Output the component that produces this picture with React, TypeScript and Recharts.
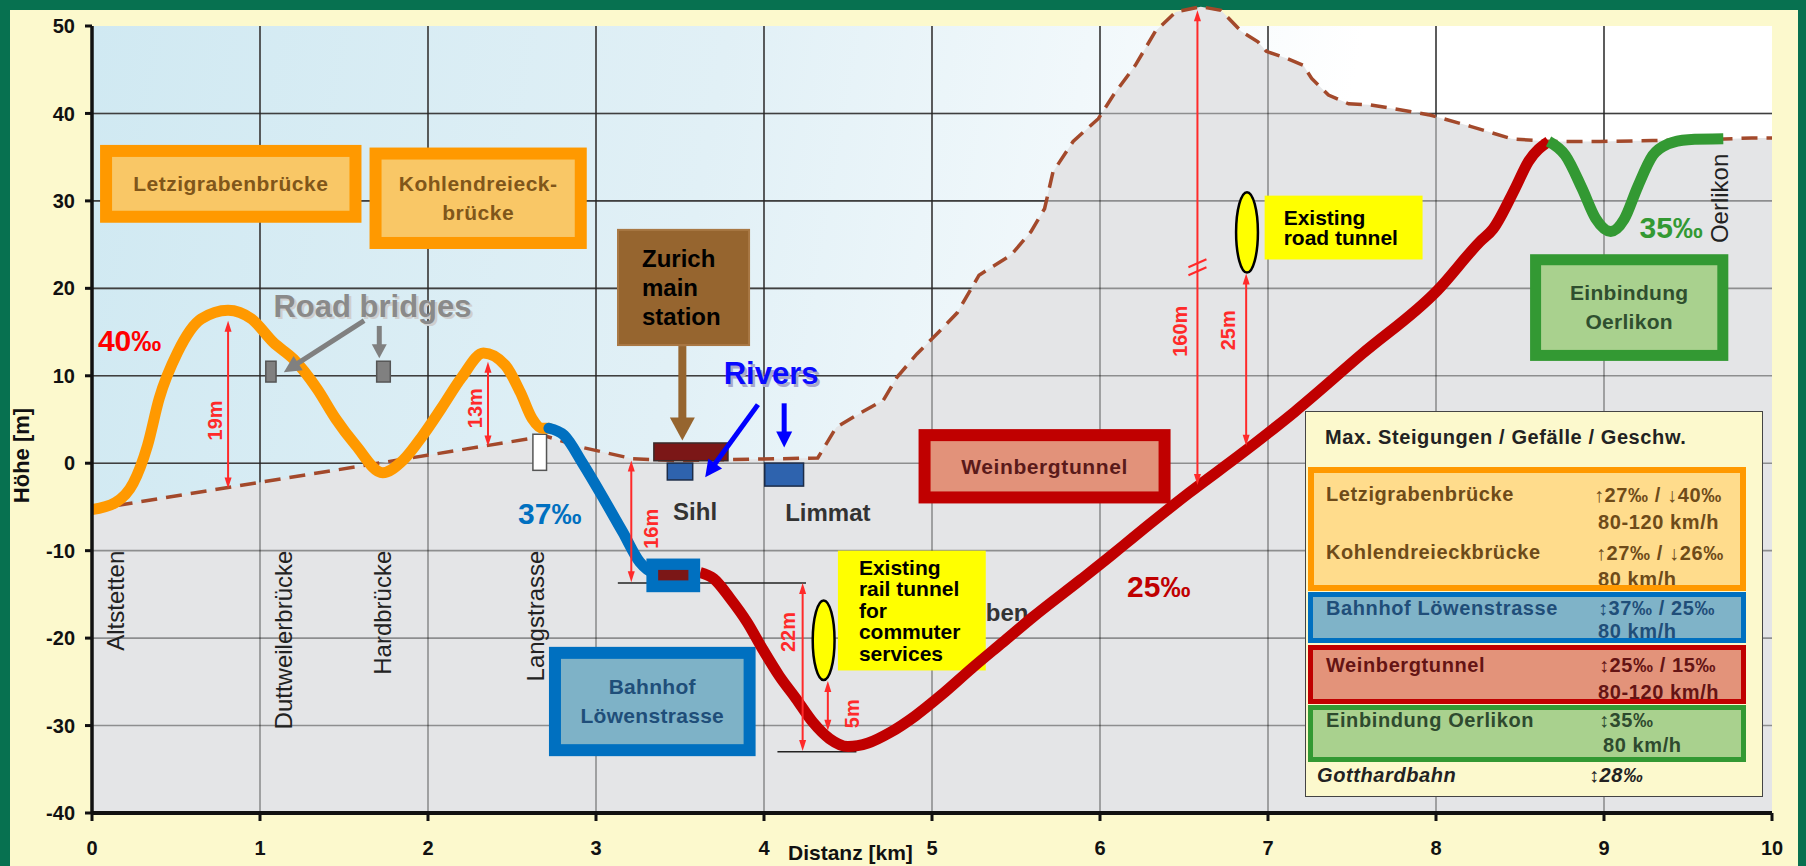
import React from 'react';
import {
  ComposedChart, Line, Area, XAxis, YAxis, CartesianGrid,
  ReferenceLine, ReferenceArea, ReferenceDot,
} from 'recharts';

const FONT = '"Liberation Sans", Arial, Helvetica, sans-serif';

// ---------------- data ----------------
const xTicks = [0, 1, 2, 3, 4, 5, 6, 7, 8, 9, 10];
const yTicks = [-40, -30, -20, -10, 0, 10, 20, 30, 40, 50];

// terrain (ground surface, dashed line)
const terrainKm = [0, 2.7, 2.92, 3.22, 3.5, 4.32, 4.43, 4.57, 4.71, 4.79, 4.91, 5.03, 5.15, 5.28, 5.47, 5.59, 5.67, 5.72, 5.84, 5.99, 6.08, 6.21, 6.33, 6.45, 6.6, 6.72, 6.84, 6.94, 6.99, 7.11, 7.21, 7.26, 7.36, 7.48, 7.6, 7.73, 7.97, 8.21, 8.45, 8.68, 8.98, 9.29, 9.61, 9.88, 10];
const terrainM = [-5.3, 3.1, 1.8, 0.5, 0.3, 0.6, 4.1, 5.7, 7.2, 9.8, 12.5, 14.8, 17.2, 21.5, 23.8, 26.5, 29.1, 33.3, 36.8, 39.4, 42.1, 45.5, 49.4, 51.6, 52.2, 51.8, 49.4, 48.2, 47.1, 46.3, 45.5, 44, 42.1, 41.1, 41, 40.6, 39.8, 38.5, 37.1, 36.8, 36.8, 36.9, 37, 37.2, 37.2];

// Letzigraben / Kohlendreieck bridges (orange)
const letziKm = [0, 0.14, 0.245, 0.33, 0.4, 0.51, 0.65, 0.81, 0.95, 1.08, 1.2, 1.34, 1.45, 1.57, 1.73, 1.85, 1.97, 2.08, 2.2, 2.33, 2.46, 2.55, 2.62, 2.68, 2.72];
const letziM = [-5.3, -4.5, -2.3, 2.0, 7.4, 12.7, 16.5, 17.5, 16.5, 13.8, 11.9, 8.5, 5.1, 2.05, -1.1, 0.3, 3.2, 6.3, 9.8, 12.6, 11.2, 8.1, 5.1, 4.0, 4.0];

// Bahnhof Löwenstrasse ramp (blue)
const loewenKm = [2.72, 2.81, 2.92, 3.05, 3.16, 3.26, 3.34, 3.45];
const loewenM = [4.0, 3.2, 0.0, -4.2, -7.9, -11.3, -12.5, -12.8];

// Weinbergtunnel (red)
const weinKm = [3.62, 3.7, 3.8, 3.9, 3.99, 4.09, 4.19, 4.29, 4.39, 4.5, 4.62, 4.75, 4.9, 5.05, 5.24, 5.42, 5.6, 5.88, 6.07, 6.19, 6.53, 6.85, 7.16, 7.56, 8.01, 8.26, 8.34, 8.47, 8.55, 8.67];
const weinM = [-12.5, -13.2, -15.5, -18.2, -21.2, -24.3, -26.9, -29.6, -31.5, -32.4, -32.0, -30.8, -28.9, -26.6, -23.4, -20.5, -17.6, -13.4, -10.5, -8.6, -3.4, 1.2, 5.9, 12.5, 19.8, 25.3, 26.8, 31.4, 34.5, 36.8];

// Einbindung Oerlikon (green)
const oerliKm = [8.67, 8.77, 8.87, 8.95, 9.04, 9.12, 9.2, 9.29, 9.38, 9.5, 9.71];
const oerliM = [36.8, 35.2, 31.4, 28.0, 26.5, 27.9, 31.6, 35.2, 36.5, 37.0, 37.1];

const toPts = (xs: number[], ys: number[]) => xs.map((x, i) => ({ x, y: ys[i] }));
const terrain = toPts(terrainKm, terrainM);
const letzi = toPts(letziKm, letziM);
const loewen = toPts(loewenKm, loewenM);
const wein = toPts(weinKm, weinM);
const oerli = toPts(oerliKm, oerliM);

const gridXs = xTicks.slice(1, -1);
const gridYs = yTicks.slice(1, -1);

// ---------------- shapes ----------------
type BoxOpts = {
  fill: string; stroke?: string; sw?: number;
  lines?: string[]; size?: number; color?: string; weight?: number;
  align?: 'center' | 'left'; padX?: number; lh?: number; spacing?: number;
  ellipse?: boolean;
};
const boxShape = (o: BoxOpts) => (p: any) => {
  const { x, y, width, height } = p;
  const sw = o.sw ?? 0;
  const lines = o.lines ?? [];
  const size = o.size ?? 20;
  const lh = o.lh ?? size * 1.2;
  const cx = x + width / 2;
  const cy = y + height / 2;
  const tx = o.align === 'left' ? x + (o.padX ?? 10) : cx;
  const shp = o.ellipse ? (
    <ellipse cx={cx} cy={cy} rx={width / 2} ry={height / 2} fill={o.fill} stroke={o.stroke ?? 'none'} strokeWidth={sw} />
  ) : (
    <rect x={x + sw / 2} y={y + sw / 2} width={Math.max(0, width - sw)} height={Math.max(0, height - sw)}
      fill={o.fill} stroke={o.stroke ?? 'none'} strokeWidth={sw} />
  );
  return (
    <g>
      {shp}
      {lines.map((t, i) => (
        <text key={i} x={tx} y={cy + (i - (lines.length - 1) / 2) * lh + size * 0.35}
          textAnchor={o.align === 'left' ? 'start' : 'middle'} fontSize={size}
          fontWeight={o.weight ?? 700} fill={o.color ?? '#000'} fontFamily={FONT}
          letterSpacing={o.spacing ?? 0}>{t}</text>
      ))}
    </g>
  );
};

type TOpts = {
  size: number; color: string; weight?: number; anchor?: 'start' | 'middle' | 'end';
  rotate?: boolean; shadow?: string; spacing?: number;
};
const textShape = (t: string, o: TOpts) => (p: any) => {
  const { cx, cy } = p;
  const base = cy + o.size * 0.35;
  const tr = o.rotate ? `rotate(-90 ${cx} ${cy})` : undefined;
  const common: any = {
    textAnchor: o.anchor ?? 'middle', fontSize: o.size, fontWeight: o.weight ?? 700,
    fontFamily: FONT, letterSpacing: o.spacing ?? 0,
  };
  return (
    <g transform={tr}>
      {o.shadow && <text x={cx + 2.5} y={base + 2.5} fill={o.shadow} {...common}>{t}</text>}
      <text x={cx} y={base} fill={o.color} {...common}>{t}</text>
    </g>
  );
};

type AOpts = { color: string; width: number; head: number; headW: number; both?: boolean };
const arrowShape = (o: AOpts) => (p: any) => {
  const { x1, y1, x2, y2 } = p;
  if ([x1, y1, x2, y2].some((v) => typeof v !== 'number' || isNaN(v))) return <g />;
  const dx = x2 - x1;
  const dy = y2 - y1;
  const len = Math.hypot(dx, dy) || 1;
  const ux = dx / len;
  const uy = dy / len;
  const nx = -uy;
  const ny = ux;
  const h = o.head;
  const w = o.headW / 2;
  const head = (tx: number, ty: number, sx: number, sy: number) => {
    const bx = tx - sx * h;
    const by = ty - sy * h;
    return `${tx},${ty} ${bx + nx * w},${by + ny * w} ${bx - nx * w},${by - ny * w}`;
  };
  const sx1 = o.both ? x1 + ux * h * 0.8 : x1;
  const sy1 = o.both ? y1 + uy * h * 0.8 : y1;
  const ex = x2 - ux * h * 0.8;
  const ey = y2 - uy * h * 0.8;
  return (
    <g>
      <line x1={sx1} y1={sy1} x2={ex} y2={ey} stroke={o.color} strokeWidth={o.width} />
      <polygon points={head(x2, y2, ux, uy)} fill={o.color} />
      {o.both && <polygon points={head(x1, y1, -ux, -uy)} fill={o.color} />}
    </g>
  );
};

const plainLine = (color: string, width: number) => (p: any) => (
  <line x1={p.x1} y1={p.y1} x2={p.x2} y2={p.y2} stroke={color} strokeWidth={width} />
);

const breakShape = (p: any) => {
  const { cx, cy } = p;
  return (
    <g stroke="#ff2a2a" strokeWidth={2}>
      <line x1={cx - 9} y1={cy - 1} x2={cx + 9} y2={cy - 9} />
      <line x1={cx - 9} y1={cy + 7} x2={cx + 9} y2={cy - 1} />
    </g>
  );
};

const RED = '#ff2a2a';
const dimArrow = arrowShape({ color: RED, width: 2, head: 11, headW: 7, both: true });
const dimText = (t: string) => textShape(t, { size: 20, color: RED, rotate: true });
const catText = (t: string) => textShape(t, { size: 24, color: '#222', weight: 400, rotate: true, anchor: 'end' });

const orangeBox = (lines: string[]) => boxShape({ fill: '#f9c766', stroke: '#ff9900', sw: 12, lines, size: 21, color: '#80561a', lh: 29, spacing: 0.5 });

const yTitle = (props: any) => {
  const vb = props && props.viewBox ? props.viewBox : { x: 32, y: 26, width: 60, height: 787 };
  const cx = vb.x - 11;
  const cy = vb.y + vb.height / 2 + 36;
  return (
    <text x={cx} y={cy + 8} transform={`rotate(-90 ${cx} ${cy})`} textAnchor="middle"
      fontSize={22} fontWeight={700} fill="#111" fontFamily={FONT}>Höhe [m]</text>
  );
};
const xTitle = (props: any) => {
  const vb = props && props.viewBox ? props.viewBox : { x: 92, y: 813, width: 1680, height: 40 };
  return (
    <text x={vb.x + 696} y={vb.y + 47} textAnchor="start"
      fontSize={21} fontWeight={700} fill="#111" fontFamily={FONT}>Distanz [km]</text>
  );
};

// ---------------- legend (HTML) ----------------
const LT = (s: string, left: number, top: number, color: string, extra: any = {}) => (
  <div style={{
    position: 'absolute', left, top, color, whiteSpace: 'nowrap', fontSize: 20, fontWeight: 700,
    lineHeight: '24px', letterSpacing: 0.6, ...extra,
  }}>{s}</div>
);
const Section = (p: { top: number; height: number; border: string; bg: string; bw: number; clip?: boolean; children: any }) => (
  <div style={{
    position: 'absolute', left: 2, top: p.top, width: 438, height: p.height, boxSizing: 'border-box',
    border: `${p.bw}px solid ${p.border}`, background: p.bg, overflow: p.clip === false ? 'visible' : 'hidden',
  }}>{p.children}</div>
);

function Legend() {
  const or = '#6e4b19';
  const bl = '#1f4e79';
  const rd = '#641414';
  const gr = '#2e4a2e';
  return (
    <div style={{
      position: 'absolute', left: 1305, top: 411, width: 458, height: 386, boxSizing: 'border-box',
      background: '#fcf9cd', border: '1.5px solid #444', fontFamily: FONT,
    }}>
      {LT('Max. Steigungen / Gefälle / Geschw.', 19, 13, '#222')}
      <Section top={55} height={124} border="#ff9900" bg="#ffdc8c" bw={6}>
        {LT('Letzigrabenbrücke', 12, 9, or)}
        {LT('↑27‰ / ↓40‰', 280, 10, or)}
        {LT('80-120 km/h', 284, 37, or)}
        {LT('Kohlendreieckbrücke', 12, 67, or)}
        {LT('↑27‰ / ↓26‰', 282, 68, or)}
        {LT('80 km/h', 284, 94, or)}
      </Section>
      <Section top={180} height={51} border="#0070c0" bg="#7fb3c8" bw={5} clip={false}>
        {LT('Bahnhof Löwenstrasse', 13, -1, bl)}
        {LT('↕37‰ / 25‰', 285, -1, bl)}
        {LT('80 km/h', 285, 22, bl)}
      </Section>
      <Section top={233} height={59} border="#c00000" bg="#e3937a" bw={5}>
        {LT('Weinbergtunnel', 13, 3, rd)}
        {LT('↕25‰ / 15‰', 286, 3, rd)}
        {LT('80-120 km/h', 285, 30, rd)}
      </Section>
      <Section top={293} height={57} border="#339933" bg="#a9d18e" bw={5}>
        {LT('Einbindung Oerlikon', 13, -2, gr)}
        {LT('↕35‰', 286, -2, gr)}
        {LT('80 km/h', 290, 23, gr)}
      </Section>
      {LT('Gotthardbahn', 11, 351, '#222', { fontStyle: 'italic' })}
      {LT('↕28‰', 283, 351, '#222', { fontStyle: 'italic' })}
    </div>
  );
}

// ---------------- chart ----------------
export default function App() {
  return (
    <div style={{ position: 'relative', width: 1806, height: 866, background: '#077150', overflow: 'hidden', fontFamily: FONT }}>
      <style>{'body{margin:0} .noclip, .noclip *{clip-path:none !important}'}</style>
      <div style={{ position: 'absolute', left: 10, top: 10, width: 1788, height: 856, background: '#fcf9cd' }} />
      <div style={{
        position: 'absolute', left: 92, top: 26, width: 1680, height: 787,
        background: 'linear-gradient(100deg, #d0e9f2 0%, #e1f0f6 35%, #f1f8fb 55%, #ffffff 70%)',
      }} />
      <div style={{ position: 'absolute', left: 0, top: 0 }}>
        <ComposedChart width={1806} height={866} margin={{ top: 26, right: 34, bottom: 13, left: 32 }}>
          <CartesianGrid stroke="#666" strokeWidth={1.6} verticalValues={gridXs} horizontalValues={gridYs} />
          <XAxis type="number" dataKey="x" domain={[0, 10]} ticks={xTicks} allowDataOverflow height={40} interval={0}
            axisLine={{ stroke: '#111', strokeWidth: 4 }} tickLine={{ stroke: '#111', strokeWidth: 3 }}
            tickSize={8} tickMargin={20}
            tick={{ fill: '#111', fontSize: 20, fontWeight: 700, fontFamily: FONT }}
            label={{ content: xTitle }} />
          <YAxis type="number" domain={[-40, 50]} ticks={yTicks} allowDataOverflow width={60} interval={0}
            axisLine={{ stroke: '#111', strokeWidth: 3.5 }} tickLine={{ stroke: '#111', strokeWidth: 3 }}
            tickSize={7} tickMargin={10}
            tick={{ fill: '#111', fontSize: 20, fontWeight: 700, fontFamily: FONT }}
            label={{ content: yTitle }} />

          {/* ground */}
          <Area className="noclip" data={terrain} dataKey="y" type="linear" baseValue={-40}
            fill="#e4e5e7" fillOpacity={1} stroke="none" isAnimationActive={false} dot={false} activeDot={false} zIndex={100} />
          {gridXs.map((v) => (
            <ReferenceLine key={'gx' + v} x={v} stroke="#000" strokeOpacity={0.38} strokeWidth={1.6} zIndex={101} />
          ))}
          {gridYs.map((v) => (
            <ReferenceLine key={'gy' + v} y={v} stroke="#000" strokeOpacity={0.38} strokeWidth={1.6} zIndex={101} />
          ))}
          <Line className="noclip" data={terrain} dataKey="y" type="linear" stroke="#a3492b" strokeWidth={3.5}
            strokeDasharray="16 9" dot={false} activeDot={false} isAnimationActive={false} zIndex={102} />

          {/* thin black reference lines */}
          <ReferenceLine segment={[{ x: 3.13, y: -13.7 }, { x: 4.25, y: -13.7 }]} shape={plainLine('#222', 1.5)} zIndex={103} />
          <ReferenceLine segment={[{ x: 4.08, y: -33 }, { x: 4.55, y: -33 }]} shape={plainLine('#222', 1.5)} zIndex={103} />

          {/* boxes & markers */}
          <ReferenceArea x1={0.048} x2={1.604} y1={27.5} y2={36.4} shape={orangeBox(['Letzigrabenbrücke'])} zIndex={104} />
          <ReferenceArea x1={1.652} x2={2.945} y1={24.5} y2={36.1} shape={orangeBox(['Kohlendreieck-', 'brücke'])} zIndex={104} />
          <ReferenceArea x1={3.125} x2={3.917} y1={13.4} y2={26.8}
            shape={boxShape({ fill: '#96652f', stroke: '#a97844', sw: 2, lines: ['Zurich', 'main', 'station'], size: 24, color: '#000', align: 'left', padX: 25, lh: 29 })} zIndex={104} />
          <ReferenceArea x1={3.34} x2={3.79} y1={0.2} y2={2.4} shape={boxShape({ fill: '#7b1717', stroke: '#3a2a2a', sw: 1.5 })} zIndex={104} />
          <ReferenceArea x1={3.42} x2={3.58} y1={-2} y2={0.1} shape={boxShape({ fill: '#2e63ae', stroke: '#1c2c48', sw: 1.5 })} zIndex={104} />
          <ReferenceArea x1={4.0} x2={4.24} y1={-2.7} y2={0.1} shape={boxShape({ fill: '#2e63ae', stroke: '#1c2c48', sw: 1.5 })} zIndex={104} />
          <ReferenceArea x1={1.03} x2={1.1} y1={9.2} y2={11.75} shape={boxShape({ fill: '#808080', stroke: '#555', sw: 1.5 })} zIndex={104} />
          <ReferenceArea x1={1.69} x2={1.78} y1={9.2} y2={11.75} shape={boxShape({ fill: '#808080', stroke: '#555', sw: 1.5 })} zIndex={104} />
          <ReferenceArea x1={2.62} x2={2.71} y1={-0.9} y2={3.4} shape={boxShape({ fill: '#ffffff', stroke: '#555', sw: 1.5 })} zIndex={104} />
          <ReferenceArea x1={2.72} x2={3.95} y1={-33.5} y2={-21}
            shape={boxShape({ fill: '#7eb2c7', stroke: '#0070c0', sw: 12, lines: ['Bahnhof', 'Löwenstrasse'], size: 21, color: '#1f4e79', lh: 29, spacing: 0.3 })} zIndex={104} />
          <ReferenceArea x1={4.44} x2={5.32} y1={-23.7} y2={-10}
            shape={boxShape({ fill: '#ffff00', lines: ['Existing', 'rail tunnel', 'for', 'commuter', 'services'], size: 21, color: '#000', align: 'left', padX: 21, lh: 21.5 })} zIndex={104} />
          <ReferenceArea x1={4.29} x2={4.42} y1={-24.8} y2={-15.7} shape={boxShape({ fill: '#ffff00', stroke: '#000', sw: 2.5, ellipse: true })} zIndex={104} />
          <ReferenceArea x1={4.92} x2={6.42} y1={-4.6} y2={3.9}
            shape={boxShape({ fill: '#e2927a', stroke: '#c00000', sw: 12, lines: ['Weinbergtunnel'], size: 21, color: '#5a1a1a', spacing: 0.6 })} zIndex={104} />
          <ReferenceArea x1={6.81} x2={6.94} y1={21.8} y2={31} shape={boxShape({ fill: '#ffff00', stroke: '#000', sw: 2.5, ellipse: true })} zIndex={104} />
          <ReferenceArea x1={6.98} x2={7.92} y1={23.3} y2={30.6}
            shape={boxShape({ fill: '#ffff00', lines: ['Existing', 'road tunnel'], size: 21, color: '#000', align: 'left', padX: 19, lh: 20 })} zIndex={104} />
          <ReferenceArea x1={8.56} x2={9.74} y1={11.7} y2={23.9}
            shape={boxShape({ fill: '#a9d18e', stroke: '#339933', sw: 11, lines: ['Einbindung', 'Oerlikon'], size: 21, color: '#2f4f2f', lh: 29, spacing: 0.3 })} zIndex={104} />

          {/* labels beneath lines */}
          <ReferenceDot x={5.32} y={-17.1} r={1} shape={textShape('ben', { size: 24, color: '#333', anchor: 'start' })} zIndex={105} />

          {/* route lines */}
          <Line data={letzi} dataKey="y" type="monotone" stroke="#ff9900" strokeWidth={11} strokeLinecap="round"
            dot={false} activeDot={false} isAnimationActive={false} zIndex={400} />
          <Line data={loewen} dataKey="y" type="monotone" stroke="#0070c0" strokeWidth={11} strokeLinecap="round"
            dot={false} activeDot={false} isAnimationActive={false} zIndex={400} />
          <Line data={wein} dataKey="y" type="monotone" stroke="#c00000" strokeWidth={11}
            dot={false} activeDot={false} isAnimationActive={false} zIndex={400} />
          <Line data={oerli} dataKey="y" type="monotone" stroke="#339933" strokeWidth={11}
            dot={false} activeDot={false} isAnimationActive={false} zIndex={400} />

          {/* station box on top of the ramp */}
          <ReferenceArea x1={3.3} x2={3.62} y1={-14.75} y2={-10.9} shape={boxShape({ fill: '#0070c0' })} zIndex={410} />
          <ReferenceArea x1={3.37} x2={3.55} y1={-13.4} y2={-12.2} shape={boxShape({ fill: '#7b1717' })} zIndex={411} />

          {/* arrows */}
          <ReferenceLine segment={[{ x: 1.62, y: 16.3 }, { x: 1.142, y: 10.4 }]} shape={arrowShape({ color: '#808080', width: 5, head: 17, headW: 17 })} zIndex={450} />
          <ReferenceLine segment={[{ x: 1.71, y: 15.7 }, { x: 1.71, y: 12.0 }]} shape={arrowShape({ color: '#808080', width: 5, head: 14, headW: 15 })} zIndex={450} />
          <ReferenceLine segment={[{ x: 3.514, y: 13.4 }, { x: 3.514, y: 2.6 }]} shape={arrowShape({ color: '#96652f', width: 8, head: 23, headW: 25 })} zIndex={450} />
          <ReferenceLine segment={[{ x: 3.964, y: 6.7 }, { x: 3.65, y: -1.6 }]} shape={arrowShape({ color: '#0000ff', width: 5, head: 17, headW: 17 })} zIndex={450} />
          <ReferenceLine segment={[{ x: 4.12, y: 6.85 }, { x: 4.12, y: 1.8 }]} shape={arrowShape({ color: '#0000ff', width: 5, head: 16, headW: 16 })} zIndex={450} />

          <ReferenceLine segment={[{ x: 0.81, y: 16.3 }, { x: 0.81, y: -2.9 }]} shape={dimArrow} zIndex={450} />
          <ReferenceLine segment={[{ x: 2.357, y: 11.6 }, { x: 2.357, y: 1.9 }]} shape={dimArrow} zIndex={450} />
          <ReferenceLine segment={[{ x: 3.21, y: 0.3 }, { x: 3.21, y: -13.6 }]} shape={dimArrow} zIndex={450} />
          <ReferenceLine segment={[{ x: 4.23, y: -13.7 }, { x: 4.23, y: -32.9 }]} shape={dimArrow} zIndex={450} />
          <ReferenceLine segment={[{ x: 4.38, y: -24.9 }, { x: 4.38, y: -30.6 }]} shape={dimArrow} zIndex={450} />
          <ReferenceLine ifOverflow="visible" segment={[{ x: 6.58, y: 51.8 }, { x: 6.58, y: -2.5 }]} shape={dimArrow} zIndex={450} />
          <ReferenceLine segment={[{ x: 6.87, y: 21.7 }, { x: 6.87, y: 2.0 }]} shape={dimArrow} zIndex={450} />
          <ReferenceDot x={6.58} y={22.3} r={1} shape={breakShape} zIndex={451} />

          {/* text labels */}
          <ReferenceDot x={0.035} y={14} r={1} shape={textShape('40‰', { size: 30, color: '#ff0000', anchor: 'start' })} zIndex={460} />
          <ReferenceDot x={2.725} y={-5.8} r={1} shape={textShape('37‰', { size: 30, color: '#0070c0' })} zIndex={460} />
          <ReferenceDot x={6.35} y={-14.1} r={1} shape={textShape('25‰', { size: 30, color: '#c00000' })} zIndex={460} />
          <ReferenceDot x={9.4} y={27} r={1} shape={textShape('35‰', { size: 30, color: '#339933' })} zIndex={460} />
          <ReferenceDot x={1.08} y={18} r={1} shape={textShape('Road bridges', { size: 31, color: '#8a8a8a', anchor: 'start', shadow: '#cfcfcf' })} zIndex={460} />
          <ReferenceDot x={3.76} y={10.3} r={1} shape={textShape('Rivers', { size: 31, color: '#0a0aff', anchor: 'start', shadow: '#a8a8cc' })} zIndex={460} />
          <ReferenceDot x={3.59} y={-5.5} r={1} shape={textShape('Sihl', { size: 24, color: '#333' })} zIndex={460} />
          <ReferenceDot x={4.38} y={-5.6} r={1} shape={textShape('Limmat', { size: 24, color: '#333' })} zIndex={460} />

          <ReferenceDot x={0.138} y={-10} r={1} shape={catText('Altstetten')} zIndex={460} />
          <ReferenceDot x={1.14} y={-10} r={1} shape={catText('Duttweilerbrücke')} zIndex={460} />
          <ReferenceDot x={1.73} y={-10} r={1} shape={catText('Hardbrücke')} zIndex={460} />
          <ReferenceDot x={2.64} y={-10} r={1} shape={catText('Langstrasse')} zIndex={460} />
          <ReferenceDot x={9.69} y={35.4} r={1} shape={catText('Oerlikon')} zIndex={460} />

          <ReferenceDot x={0.73} y={4.9} r={1} shape={dimText('19m')} zIndex={460} />
          <ReferenceDot x={2.28} y={6.3} r={1} shape={dimText('13m')} zIndex={460} />
          <ReferenceDot x={3.325} y={-7.5} r={1} shape={dimText('16m')} zIndex={460} />
          <ReferenceDot x={4.145} y={-19.3} r={1} shape={dimText('22m')} zIndex={460} />
          <ReferenceDot x={4.525} y={-28.65} r={1} shape={dimText('5m')} zIndex={460} />
          <ReferenceDot x={6.476} y={15.1} r={1} shape={dimText('160m')} zIndex={460} />
          <ReferenceDot x={6.76} y={15.2} r={1} shape={dimText('25m')} zIndex={460} />
        </ComposedChart>
      </div>
      <Legend />
    </div>
  );
}
